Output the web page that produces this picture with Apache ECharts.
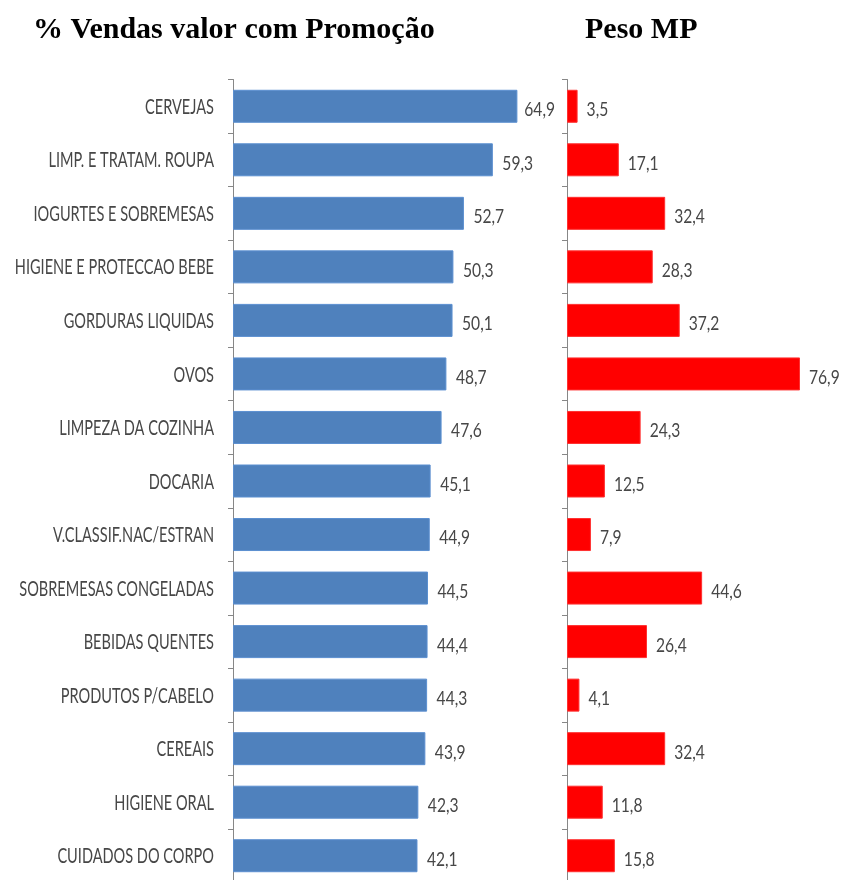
<!DOCTYPE html>
<html>
<head>
<meta charset="utf-8">
<script src="https://cdn.jsdelivr.net/npm/echarts@6/dist/echarts.min.js"></script>
<style>
  html, body { margin: 0; padding: 0; background: #ffffff; }
  #chart { width: 841px; height: 880px; }
</style>
</head>
<body>
<div id="chart"></div>
<script>
// Product categories, top to bottom
const categories = [
  'CERVEJAS',
  'LIMP. E TRATAM. ROUPA',
  'IOGURTES E SOBREMESAS',
  'HIGIENE E PROTECCAO BEBE',
  'GORDURAS LIQUIDAS',
  'OVOS',
  'LIMPEZA DA COZINHA',
  'DOCARIA',
  'V.CLASSIF.NAC/ESTRAN',
  'SOBREMESAS CONGELADAS',
  'BEBIDAS QUENTES',
  'PRODUTOS P/CABELO',
  'CEREAIS',
  'HIGIENE ORAL',
  'CUIDADOS DO CORPO'
];

// % of sales value sold on promotion
const vendasPromocao = [64.9, 59.3, 52.7, 50.3, 50.1, 48.7, 47.6, 45.1, 44.9, 44.5, 44.4, 44.3, 43.9, 42.3, 42.1];

// Weight of MP
const pesoMP = [3.5, 17.1, 32.4, 28.3, 37.2, 76.9, 24.3, 12.5, 7.9, 44.6, 26.4, 4.1, 32.4, 11.8, 15.8];

const panelTitles = ['% Vendas valor com Promoção', 'Peso MP'];

const titleFont = "'Liberation Serif', 'Times New Roman', serif";
// Narrow, tall label text: a humanist sans squeezed horizontally
const labelFont = "20px Lato, 'Open Sans', sans-serif";
const catFont = "20.5px Lato, 'Open Sans', sans-serif";
const valueSqueeze = 0.78;
const catSqueeze = 0.71;
const textGrey = '#474747';
const axisGrey = '#878787';
const fmt = v => String(v).replace('.', ',');

const measureCtx = document.createElement('canvas').getContext('2d');
function textWidth(text, font, squeeze) {
  measureCtx.font = font;
  return measureCtx.measureText(text).width * squeeze;
}

const chart = echarts.init(document.getElementById('chart'), null, { renderer: 'canvas' });

const bandTop = 79.5;
const bandHeight = 803;
const leftPanel = { left: 233, width: 70 * 4.382, max: 70 };
const rightPanel = { left: 567, width: 80 * 3.03, max: 80 };

// Value labels placed after each bar end; the left panel keeps its labels clear of the right axis
function valueLabels(values, axisIdx, gap, limitX) {
  return {
    type: 'custom', xAxisIndex: axisIdx, yAxisIndex: axisIdx,
    data: values.map((v, i) => [v, i]),
    encode: { x: 0, y: 1 },
    silent: true, z: 5, clip: false,
    renderItem: (params, api) => {
      const v = api.value(0);
      const pt = api.coord([v, api.value(1)]);
      const text = fmt(v);
      let x = pt[0] + gap;
      if (limitX != null) x = Math.min(x, limitX - textWidth(text, labelFont, valueSqueeze));
      return {
        type: 'text', x: x, y: pt[1] + 3.5, scaleX: valueSqueeze, scaleY: 1,
        style: { text: text, font: labelFont, fill: textGrey, align: 'left', verticalAlign: 'middle' }
      };
    }
  };
}

// Category names to the left of the first axis
const categoryLabels = {
  type: 'custom', xAxisIndex: 0, yAxisIndex: 0,
  data: categories.map((c, i) => [0, i]),
  encode: { x: 0, y: 1 },
  silent: true, z: 5, clip: false,
  renderItem: (params, api) => {
    const idx = api.value(1);
    const pt = api.coord([0, idx]);
    return {
      type: 'text', x: pt[0] - 19, y: pt[1] + 1, scaleX: catSqueeze, scaleY: 1,
      style: { text: categories[idx], font: catFont, fill: textGrey, align: 'right', verticalAlign: 'middle' }
    };
  }
};

const catAxis = (gridIndex) => ({
  type: 'category', gridIndex: gridIndex, data: categories, inverse: true,
  axisLine: { lineStyle: { color: axisGrey, width: 1 } },
  axisTick: { show: true, length: 5, lineStyle: { color: axisGrey } },
  axisLabel: { show: false },
  splitLine: { show: false }
});

chart.setOption({
  animation: false,
  backgroundColor: '#ffffff',
  graphic: [
    {
      type: 'text', left: 33, top: 15,
      style: { text: panelTitles[0], font: "bold 30px " + titleFont, fill: '#000000' }
    },
    {
      type: 'text', left: 585, top: 15,
      style: { text: panelTitles[1], font: "bold 30px " + titleFont, fill: '#000000' }
    }
  ],
  grid: [
    { left: leftPanel.left, top: bandTop, width: leftPanel.width, height: bandHeight, outerBoundsMode: 'none' },
    { left: rightPanel.left, top: bandTop, width: rightPanel.width, height: bandHeight, outerBoundsMode: 'none' }
  ],
  xAxis: [
    { type: 'value', gridIndex: 0, min: 0, max: leftPanel.max, show: false },
    { type: 'value', gridIndex: 1, min: 0, max: rightPanel.max, show: false }
  ],
  yAxis: [catAxis(0), catAxis(1)],
  series: [
    {
      type: 'bar', xAxisIndex: 0, yAxisIndex: 0, data: vendasPromocao,
      barWidth: 33,
      itemStyle: { color: '#4f81bd', borderColor: '#5b8fd0', borderWidth: 1 }
    },
    {
      type: 'bar', xAxisIndex: 1, yAxisIndex: 1, data: pesoMP,
      barWidth: 33,
      itemStyle: { color: '#ff0000', borderColor: '#ff3030', borderWidth: 1 }
    },
    valueLabels(vendasPromocao, 0, 9.5, 555),
    valueLabels(pesoMP, 1, 9, null),
    categoryLabels
  ]
});
</script>
</body>
</html>
